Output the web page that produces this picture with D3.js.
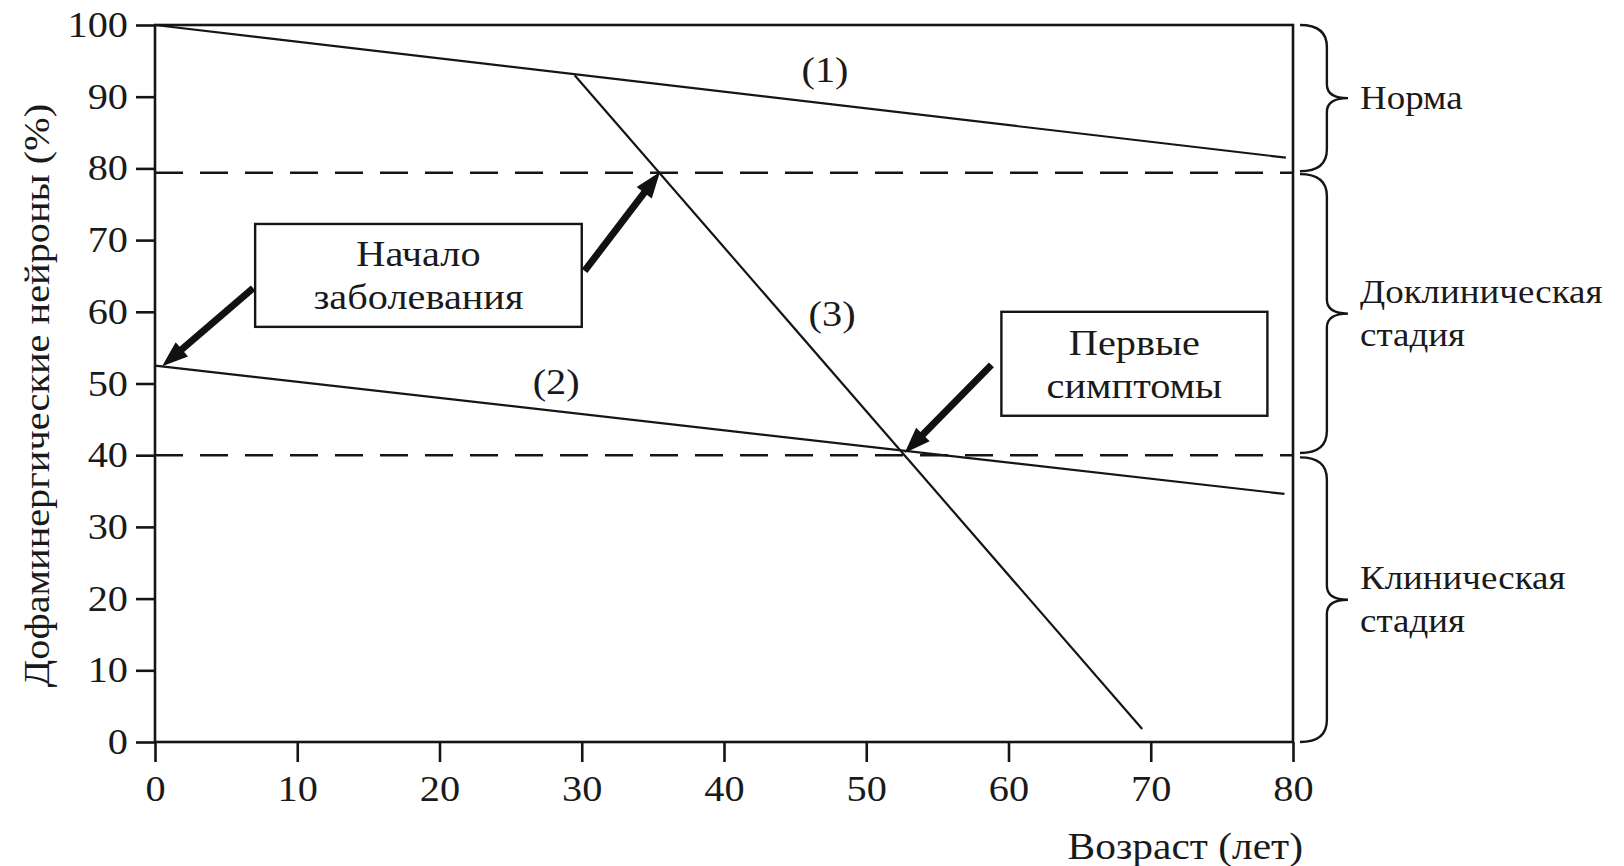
<!DOCTYPE html>
<html><head><meta charset="utf-8">
<script src="https://cdn.jsdelivr.net/npm/d3@7"></script>
<style>
html,body{margin:0;padding:0;background:#fff;}
svg{display:block;}
text{font-family:"Liberation Serif","Times New Roman",serif;fill:#1a1a1a;}
</style></head>
<body>
<svg id="chart" width="1624" height="866"></svg>
<script>
// ---- data ----
const xTicks = [0,10,20,30,40,50,60,70,80];
const yTicks = [0,10,20,30,40,50,60,70,80,90,100];
const line1 = [[0,100],[79.5,81.5]];
const line2 = [[0,52.5],[79.4,34.6]];
const line3 = [[29.5,93],[69.4,1.8]];
const lineLabels = ["(1)","(2)","(3)"];
const lineLabelPos = [[47.1,93.7],[28.2,50.2],[47.6,59.7]];
const thresholds = [79.4, 40];
const stageNames = [["Норма"],["Доклиническая","стадия"],["Клиническая","стадия"]];
const stageRanges = [[100,79.6],[79.2,40.3],[39.7,0]];
const boxTexts = [["Начало","заболевания"],["Первые","симптомы"]];
const boxRanges = [[[7.04,30.0],[72.25,57.9]],[[59.5,78.2],[60.0,45.5]]];
const arrows = [[[6.9,63.3],[0.5,52.4]],[[30.2,65.7],[35.5,79.5]],[[58.8,52.6],[52.7,40.3]]];
const xTitle = "Возраст (лет)";
const yTitle = "Дофаминергические нейроны (%)";

// ---- chart ----
const svg = d3.select("#chart");
const x = d3.scaleLinear().domain([0,80]).range([155,1293]);
const y = d3.scaleLinear().domain([0,100]).range([742,25]);
const ink = "#151515";
const SX = 1.12; // horizontal stretch of the serif face

function label(px, py, str, size, anchor, rot) {
  return svg.append("text")
    .attr("transform", `translate(${px},${py})${rot?` rotate(${rot})`:""} scale(${SX},1)`)
    .attr("text-anchor", anchor||"start").attr("dominant-baseline","central")
    .attr("font-size", size).text(str);
}

// frame
svg.append("rect").attr("x",x(0)).attr("y",y(100)).attr("width",x(80)-x(0)).attr("height",y(0)-y(100))
  .attr("fill","none").attr("stroke",ink).attr("stroke-width",2.6);

const fs = 36;
const gx = svg.append("g").attr("transform",`translate(0,${y(0)})`)
  .call(d3.axisBottom(x).tickValues(xTicks).tickSize(20).tickPadding(13).tickSizeOuter(0).tickFormat(d3.format("d")));
const gy = svg.append("g").attr("transform",`translate(${x(0)},0)`)
  .call(d3.axisLeft(y).tickValues(yTicks).tickSize(19).tickPadding(8).tickSizeOuter(0).tickFormat(d3.format("d")));
[gx,gy].forEach(g=>{
  g.select(".domain").remove();
  g.selectAll(".tick line").attr("stroke",ink).attr("stroke-width",2.6);
  g.selectAll(".tick text").attr("font-family","Liberation Serif").attr("font-size",fs).attr("fill","#1a1a1a")
    .attr("transform",`scale(${SX},1)`);
});
gy.selectAll(".tick text").attr("x", -(19+8)/SX);

// thresholds
svg.selectAll(".thr").data(thresholds).enter().append("line")
  .attr("x1",x(0)).attr("x2",x(80)).attr("y1",d=>y(d)).attr("y2",d=>y(d))
  .attr("stroke",ink).attr("stroke-width",2.4).attr("stroke-dasharray","28,17");

// lines
const lg = d3.line().x(d=>x(d[0])).y(d=>y(d[1]));
[line1,line2,line3].forEach(l=>{
  svg.append("path").attr("d",lg(l)).attr("fill","none").attr("stroke",ink).attr("stroke-width",2.2);
});
lineLabels.forEach((t,i)=>{
  label(x(lineLabelPos[i][0]), y(lineLabelPos[i][1]), t, 36, "middle");
});

// boxes
boxTexts.forEach((lines,i)=>{
  const [xr,yr] = boxRanges[i];
  const x0=x(xr[0]), x1=x(xr[1]), y0=y(yr[0]), y1=y(yr[1]);
  svg.append("rect").attr("x",x0).attr("y",y0).attr("width",x1-x0).attr("height",y1-y0)
    .attr("fill","#fff").attr("stroke",ink).attr("stroke-width",2.4);
  const cx=(x0+x1)/2, cy=(y0+y1)/2;
  lines.forEach((t,j)=>{
    label(cx, cy+(j-0.5)*43, t, 36, "middle");
  });
});

// arrows
arrows.forEach(a=>{
  const tx=x(a[0][0]), ty=y(a[0][1]), hx=x(a[1][0]), hy=y(a[1][1]);
  const dx=hx-tx, dy=hy-ty, L=Math.hypot(dx,dy), ux=dx/L, uy=dy/L, px=-uy, py=ux;
  const hl=26, hw=9.5;
  const bx=hx-ux*hl, by=hy-uy*hl;
  svg.append("line").attr("x1",tx).attr("y1",ty).attr("x2",bx+ux*2).attr("y2",by+uy*2)
    .attr("stroke","#111").attr("stroke-width",7);
  svg.append("path").attr("d",`M${hx},${hy}L${bx+px*hw},${by+py*hw}L${bx-px*hw},${by-py*hw}Z`).attr("fill","#111");
});

// braces
const bx0 = x(80)+7, bw=48, r=22;
stageRanges.forEach((rg,i)=>{
  const y1=y(rg[0]), y2=y(rg[1]), ym=(y1+y2)/2, xm=bx0+bw*0.56, xt=bx0+bw;
  const d=`M${bx0},${y1}Q${xm},${y1} ${xm},${y1+r}L${xm},${ym-14}Q${xm},${ym} ${xt},${ym}Q${xm},${ym} ${xm},${ym+14}L${xm},${y2-r}Q${xm},${y2} ${bx0},${y2}`;
  svg.append("path").attr("d",d).attr("fill","none").attr("stroke",ink).attr("stroke-width",2.4);
  const lines=stageNames[i];
  lines.forEach((t,j)=>{
    label(xt+12, ym+(j-(lines.length-1)/2)*43, t, 33, "start");
  });
});

// titles
label(x(80)+10, 846, xTitle, 37, "end");
label(37, (y(0)+y(100))/2+12, yTitle, 36, "middle", -90);
</script>
</body></html>
